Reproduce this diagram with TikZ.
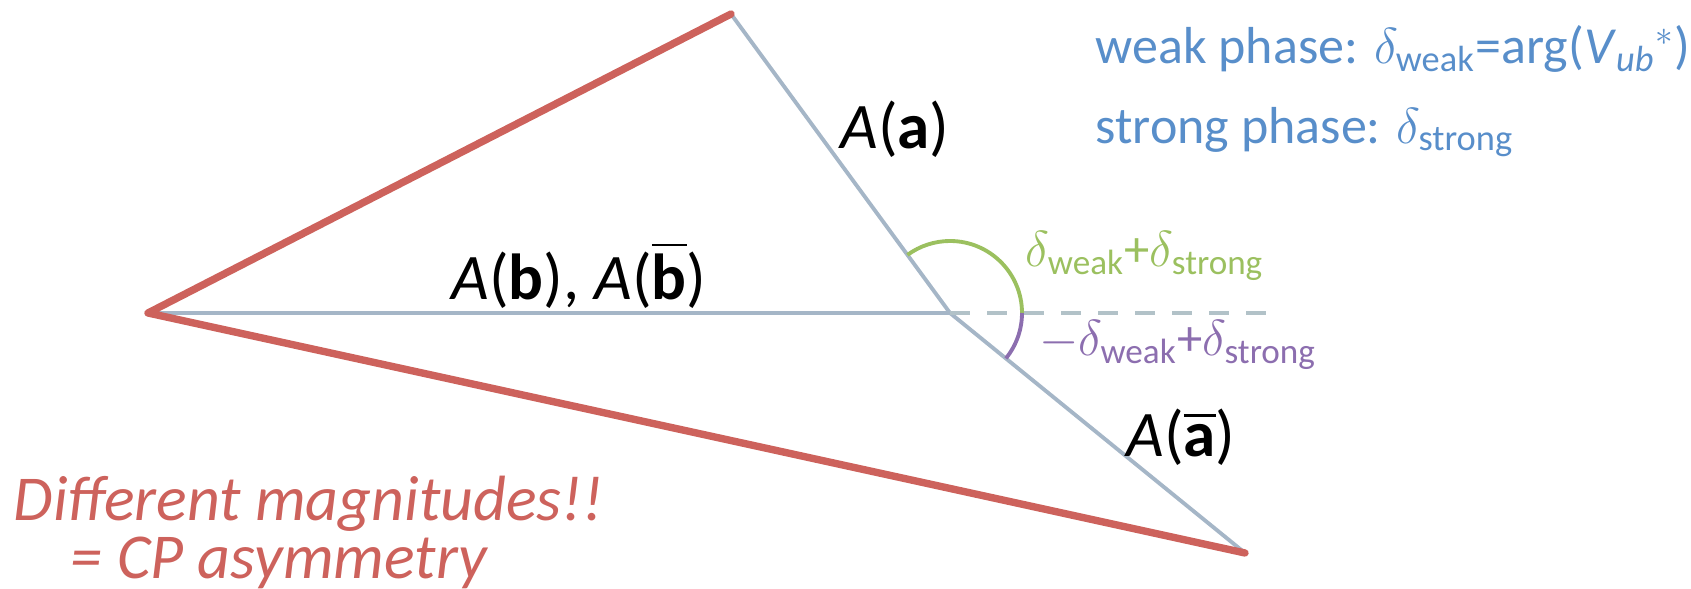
\documentclass[tikz,border=0pt]{standalone}
\usepackage{fontspec}
\setmainfont{Carlito}
\usepackage{amsmath}
\usetikzlibrary{calc}
\definecolor{sidered}{RGB}{205,98,92}
\definecolor{sidegray}{RGB}{165,182,199}
\definecolor{dashgray}{RGB}{178,194,200}
\definecolor{phasegreen}{RGB}{155,192,95}
\definecolor{phasepurple}{RGB}{140,110,175}
\definecolor{phaseblue}{RGB}{88,142,202}

\begin{document}
\begin{tikzpicture}[
    redside/.style={sidered, line width=2.1pt, line cap=round, line join=round},
    grayside/.style={sidegray, line width=1.1pt},
    lbl/.style={inner sep=0pt, font=\fontsize{18.5}{22}\selectfont},
    phase/.style={inner sep=0pt, font=\fontsize{14.4}{17}\selectfont}]
        \useasboundingbox (0,0) rectangle (16.91,5.89);

        % corners of the triangle
        \coordinate (L) at (1.48,2.76);
        \coordinate (T) at (7.31,5.75);
        \coordinate (J) at (9.50,2.76);
        \coordinate (B) at (12.45,0.36);
        \coordinate (D) at (12.72,2.76);

        % Draw the amplitudes
        \draw[grayside] (L) -- (J);
        \draw[grayside] (T) -- (J) -- (B);
        \draw[dashgray, line width=1.1pt, dash pattern=on 0.2cm off 0.17cm] (J) -- (D);

        % Draw the two total amplitudes
        \draw[redside] (T) -- (L) -- (B);

        % Draw the phase arcs
        \draw[phasegreen, line width=1.1pt] ($(J)+(0.72,0)$) arc (0:126.2:0.72);
        \draw[phasepurple, line width=1.1pt] ($(J)+(0.72,0)$) arc (0:-39.1:0.72);

        \node[lbl] (Aa) at (8.95,4.60) {\textit{A}(\textbf{a})};
        \node[lbl] (Ab) at (5.79,3.14) {\textit{A}(\textbf{b}), \textit{A}($\overline{\mbox{\textbf{b}}}$)};
        \node[lbl] (Aabar) at (11.81,1.52) {\textit{A}($\overline{\mbox{\textbf{a}}}$)};

        \node[phase, phasegreen] (sum) at (11.45,3.33) {$\delta_{\text{weak}}$+$\delta_{\text{strong}}$};
        \node[phase, phasepurple] (diff) at (11.78,2.44) {$-\delta_{\text{weak}}$+$\delta_{\text{strong}}$};

        \node[phase, phaseblue, anchor=west, font=\fontsize{14.8}{17}\selectfont] (weak) at (10.95,5.40) {weak phase: $\delta_{\text{weak}}$=arg(\textit{V}$_{\textit{ub}}{}^{*}$)};
        \node[phase, phaseblue, anchor=west, font=\fontsize{14.8}{17}\selectfont] (strong) at (10.95,4.57) {strong phase: $\delta_{\text{strong}}$};

        \node[lbl, sidered, anchor=west, font=\fontsize{18.2}{21}\selectfont\itshape] (diffmag) at (0.13,0.85) {Different magnitudes!!};
        \node[lbl, sidered, anchor=west, font=\fontsize{18.2}{21}\selectfont\itshape] (cpasym) at (0.70,0.26) {= CP asymmetry};
    \end{tikzpicture}
\end{document}
